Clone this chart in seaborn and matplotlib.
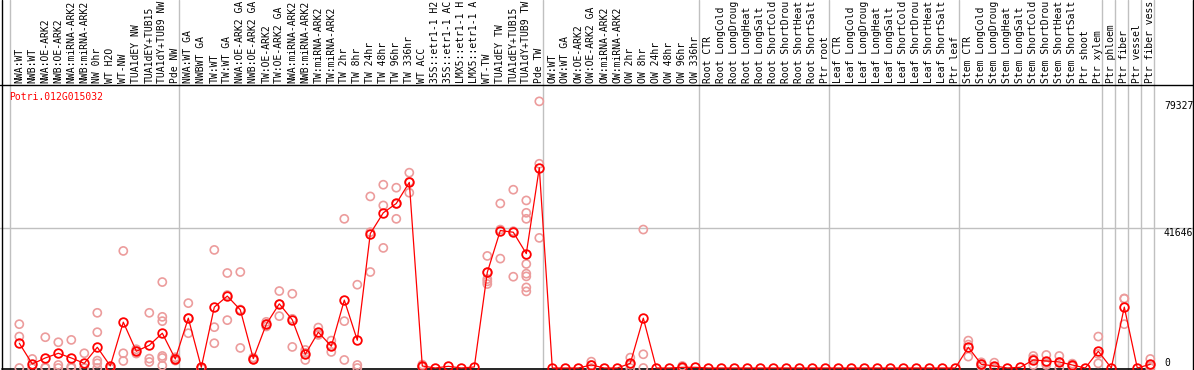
import numpy as np
import pandas as pd
import matplotlib
matplotlib.use("Agg")
import matplotlib.pyplot as plt
import matplotlib.transforms as mtransforms
import seaborn as sns

sns.set_style("white")
plt.rcParams['font.family'] = ['DejaVu Sans Mono']

# Data
gene = "Potri.012G015032"

labels = [
    "NWA:WT", "NWB:WT", "NWA:OE-ARK2", "NWB:OE-ARK2", "NWA:miRNA-ARK2", "NWB:miRNA-ARK2",
    "NW 0hr", "WT H2O", "WT-NW", "TUA1dEY NW", "TUA1dEY+TUB15", "TUA1dY+TUB9 NW", "Pde NW",
    "NWA:WT GA", "NWBWT GA", "TW:WT", "TW:WT GA", "NWA:OE-ARK2 GA", "NWB:OE-ARK2 GA",
    "TW:OE-ARK2", "TW:OE-ARK2 GA", "NWA:miRNA-ARK2", "NWB:miRNA-ARK2", "TW:miRNA-ARK2",
    "TW:miRNA-ARK2", "TW 2hr", "TW 8hr", "TW 24hr", "TW 48hr", "TW 96hr", "TW 336hr",
    "WT ACC", "35S::etr1-1 H2O", "35S::etr1-1 ACC", "LMX5::etr1-1 H2O", "LMX5::etr1-1 ACC",
    "WT-TW", "TUA1dEY TW", "TUA1dEY+TUB15", "TUA1dY+TUB9 TW", "Pde TW",
    "OW:WT", "OW:WT GA", "OW:OE-ARK2", "OW:OE-ARK2 GA", "OW:miRNA-ARK2", "OW:miRNA-ARK2",
    "OW 2hr", "OW 8hr", "OW 24hr", "OW 48hr", "OW 96hr", "OW 336hr",
    "Root CTR", "Root LongCold", "Root LongDrought", "Root LongHeat", "Root LongSalt",
    "Root ShortCold", "Root ShortDrought", "Root ShortHeat", "Root ShortSalt", "Ptr root",
    "Leaf CTR", "Leaf LongCold", "Leaf LongDrought", "Leaf LongHeat", "Leaf LongSalt",
    "Leaf ShortCold", "Leaf ShortDrought", "Leaf ShortHeat", "Leaf ShortSalt", "Ptr leaf",
    "Stem CTR", "Stem LongCold", "Stem LongDrought", "Stem LongHeat", "Stem LongSalt",
    "Stem ShortCold", "Stem ShortDrought", "Stem ShortHeat", "Stem ShortSalt",
    "Ptr shoot", "Ptr xylem", "Ptr phloem", "Ptr fiber", "Ptr vessel", "Ptr fiber vessel",
]

means = [
    7370, 1190, 2985, 4380, 2985, 1390, 6170, 600, 13640, 4980, 6770, 10350, 2690,
    14830, 200, 18110, 21400, 17310, 2790, 13040, 19100, 14330, 4080, 10650, 6470,
    20200, 8260, 40000, 46170, 48950, 55220, 600, 0, 500, 0, 300,
    28460, 40890, 40390, 34030, 59600,
    0, 0, 0, 900, 0, 0, 1390, 14830, 0, 0, 200, 200,
    0, 0, 0, 0, 0, 0, 0, 0, 0, 0,
    0, 0, 0, 0, 0, 0, 0, 0, 0, 0,
    6170, 1100, 600, 0, 200, 2390, 2090, 1790, 900,
    0, 4980, 0, 18110, 0, 1100,
]

replicates = [
    [13040, 9350, 0], [2690, 0, 0], [9160, 200, 0], [7660, 900, 0], [8360, 400, 0],
    [4380, 0, 0], [16420, 10650, 2190, 1390, 0], [0, 0, 0], [34830, 4380, 2090],
    [5580, 4980, 4300], [16420, 2790, 1790], [25570, 15220, 13940, 3580, 2985, 700],
    [3190, 2690, 2200],
    [19300, 10350, 14840], [0, 0, 0], [35130, 12150, 7370], [28260, 14240, 21700],
    [28560, 5970, 17400], [2790, 2500, 3100], [13730, 13040, 12350], [22890, 15430, 19000],
    [22090, 6270, 14630], [5370, 2390, 4480], [12030, 9850, 10070], [8150, 4780, 6480],
    [44380, 13940, 2390], [24780, 900, 0], [51040, 28560, 40400], [54530, 48360, 35730],
    [53640, 44380, 48830], [58110, 52140, 55410], [1000, 500, 300], [], [], [], [],
    [33340, 28460, 26470, 25770, 24980], [48950, 32540, 41180], [53040, 40690, 27160],
    [49850, 46170, 44380, 30950, 28060, 27260, 23970, 22790], [79327, 38710, 60760],
    [], [], [], [1890, 900, 0], [], [], [3090, 1000, 0], [41190, 4080, 0], [], [],
    [600, 0, 0], [],
    [], [], [], [], [], [], [], [], [], [],
    [], [], [], [], [], [], [], [], [], [],
    [8150, 3390, 6970], [1690, 1100, 500], [1590, 200, 0], [], [], [3580, 900, 2690],
    [3880, 900, 1490], [3580, 0, 1790], [1300, 900, 500],
    [], [9350, 1390, 4200], [], [20600, 13040, 20690], [], [2690, 0, 600],
]

group_edges = [0, 13, 41, 53, 63, 73, 84, 85, 86, 87, 88]
y_ticks = [79327, 41646, 0]
max_chars = 14  # the label strip only has room for 14 characters

# Layout (pixels of the 1194x370 output)
W, H = 1194, 370
px_per_col = 13
x0_px = 19.3
val_per_px = 297.5
zero_px = 368
fs = 7.0

pos = np.arange(len(labels))
rep_df = pd.DataFrame(
    [(i, v) for i, reps in enumerate(replicates) for v in reps],
    columns=["pos", "value"],
)
mean_df = pd.DataFrame({"pos": pos, "value": means})

fig = plt.figure(figsize=(W / 100, H / 100), dpi=100)
ax = fig.add_axes([0, 0, 1, 1])
xmin = -x0_px / px_per_col
ax.set_xlim(xmin, xmin + W / px_per_col)
ax.set_ylim(-(H - zero_px) * val_per_px, zero_px * val_per_px)
ax.axis("off")

grid_col = "#c0c0c0"
for k in group_edges:
    ax.axvline(k - 0.68, color=grid_col, lw=1, zorder=1)
ax.axhline(y_ticks[1], color=grid_col, lw=1, zorder=1)

# frame lines
top_frac = (H - 85) / H
ax.plot([0, 1], [top_frac, top_frac], transform=ax.transAxes, color="black", lw=1, zorder=2)
bot_val = -0.5 * val_per_px
ax.plot([xmin + 2 / px_per_col, 87.32], [bot_val, bot_val], color="black", lw=1.2, zorder=2)
ax.plot([2 / W, 2 / W], [0, 1], transform=ax.transAxes, color="black", lw=1, zorder=2)
ax.plot([1192.5 / W, 1192.5 / W], [0, 1], transform=ax.transAxes, color="black", lw=1, zorder=2)

# replicates (pale) and mean line
sns.scatterplot(data=rep_df, x="pos", y="value", ax=ax, marker="o", s=34,
                facecolor="none", edgecolor="#ec9c9c", linewidth=1.2, zorder=3, legend=False)
sns.lineplot(data=mean_df, x="pos", y="value", ax=ax, color="red", lw=0.9,
             marker="o", markersize=6.2, markerfacecolor="none", markeredgecolor="red",
             markeredgewidth=1.3, zorder=4)
ax.set_xlabel("")
ax.set_ylabel("")
ax.axis("off")

# column labels
trans = mtransforms.blended_transform_factory(ax.transData, ax.transAxes)
lab_y = (H - 83) / H
for i, lab in enumerate(labels):
    ax.text(i, lab_y, lab[:max_chars], transform=trans, rotation=90, ha="center", va="bottom",
            fontsize=fs, color="black")

# y value labels on the right
ytrans = mtransforms.blended_transform_factory(ax.transAxes, ax.transData)
for v in y_ticks:
    ax.text(1164 / W, v, str(v), transform=ytrans,
            ha="left", va="bottom" if v == 0 else "top", fontsize=fs, color="black")

ax.text(9 / W, (H - 97) / H, gene, transform=ax.transAxes, ha="left", va="center",
        fontsize=fs, color="red")

fig.savefig("out.png", dpi=100)
